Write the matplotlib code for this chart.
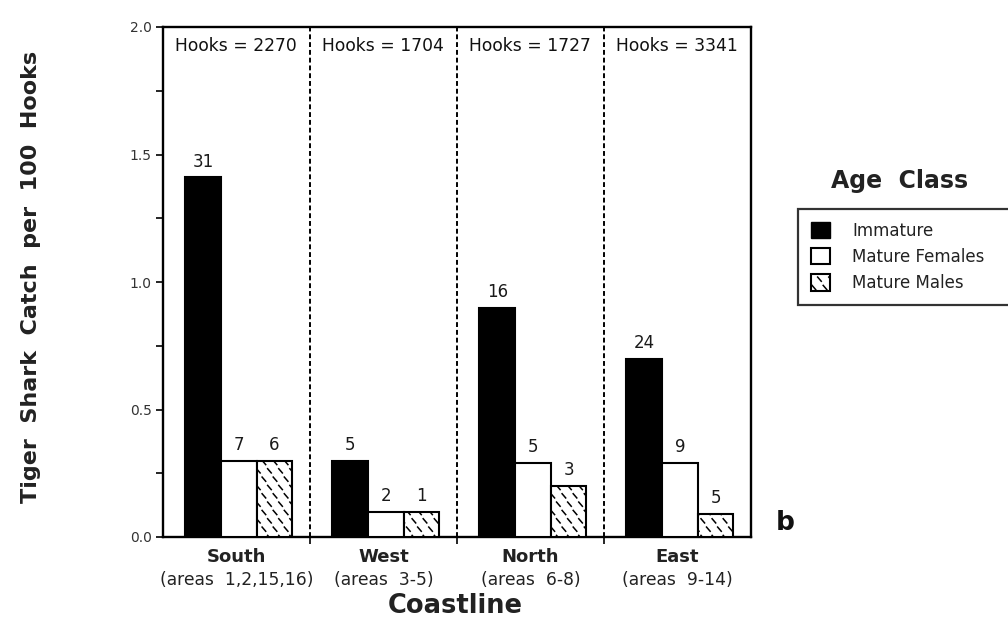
import matplotlib
matplotlib.use("Agg")
import matplotlib.pyplot as plt
import matplotlib.hatch as mhatch
from matplotlib.path import Path
import numpy as np
from matplotlib.patches import Patch

plt.rcParams['font.family'] = ['DejaVu Sans']
plt.rcParams['hatch.linewidth'] = 1.1


# custom hatch: short staggered "\" dashes (used via the '*' hatch character)
class DashHatch(mhatch.HatchPatternBase):
    def __init__(self, hatch, density):
        k = hatch.count('*')
        self.cols = 9 * k
        self.rows = 12 * k
        self.num_vertices = 2 * self.cols * self.rows if k else 0

    def set_vertices_and_codes(self, vertices, codes):
        hx = 0.018
        hy = 0.021
        pts = []
        for j in range(self.rows):
            for i in range(self.cols):
                cx = (i + 0.75 - 0.5 * (j % 2)) / self.cols
                cy = (j + 0.5) / self.rows
                pts.append((cx - hx, cy + hy))
                pts.append((cx + hx, cy - hy))
        vertices[:] = np.array(pts)
        codes[0::2] = Path.MOVETO
        codes[1::2] = Path.LINETO


mhatch._hatch_types = [t for t in mhatch._hatch_types if t.__name__ != 'Stars'] + [DashHatch]

coasts = ["South", "West", "North", "East"]
areas = ["(areas  1,2,15,16)", "(areas  3-5)", "(areas  6-8)", "(areas  9-14)"]
hooks = [2270, 1704, 1727, 3341]
series_names = ["Immature", "Mature Females", "Mature Males"]
immature = [1.41, 0.3, 0.9, 0.7]
mature_females = [0.3, 0.1, 0.29, 0.29]
mature_males = [0.3, 0.1, 0.2, 0.09]
n_immature = [31, 5, 16, 24]
n_females = [7, 2, 5, 9]
n_males = [6, 1, 3, 5]

fig = plt.figure(figsize=(10.08, 6.41), dpi=100)
ax = fig.add_axes([163/1008, 1-537/641, (751-163)/1008, (537-27)/641])

x = np.arange(len(coasts))
w = 0.243
offsets = [-0.226, 0.017, 0.259]
styles = [dict(color='black', edgecolor='black'),
          dict(color='white', edgecolor='black'),
          dict(color='white', edgecolor='black', hatch='*')]
vals = [immature, mature_females, mature_males]
counts = [n_immature, n_females, n_males]
for off, v, c, st in zip(offsets, vals, counts, styles):
    bars = ax.bar(x + off, v, w, linewidth=1.5, **st, zorder=3)
    for b, n in zip(bars, c):
        ax.annotate(str(n), (b.get_x() + b.get_width()/2, b.get_height()),
                    xytext=(0, 5), textcoords='offset points',
                    ha='center', va='bottom', fontsize=12, color='#1a1a1a')

for xb in [0.5, 1.5, 2.5]:
    ax.axvline(xb, color='black', lw=1.4, ls=(0, (2.5, 1.5)), zorder=2)

ax.set_xlim(-0.5, 3.5)
ax.set_ylim(0, 2.0)
ax.set_yticks([0, 0.5, 1.0, 1.5, 2.0])
ax.set_yticklabels(["0.0", "0.5", "1.0", "1.5", "2.0"])
ax.set_yticks(np.arange(0, 2.01, 0.25), minor=True)
ax.tick_params(axis='y', which='both', direction='out', length=5, width=1.2,
               labelsize=10, labelcolor='#333333', pad=3)
ax.set_xticks([0.5, 1.5, 2.5])
ax.set_xticklabels([])
ax.tick_params(axis='x', direction='out', length=5, width=1.2)
for s in ax.spines.values():
    s.set_linewidth(1.7)

trans = ax.get_xaxis_transform()
for i, (c, a, h) in enumerate(zip(coasts, areas, hooks)):
    ax.text(i, -20/510, c, transform=trans, ha='center', va='center',
            fontsize=13, fontweight='bold', color='#222222')
    ax.text(i, -43/510, a, transform=trans, ha='center', va='center',
            fontsize=12.3, color='#222222')
    ax.text(i - 0.415, 0.963, f"Hooks = {h}", transform=trans, ha='left', va='center',
            fontsize=12.3, color='#111111')

ax.set_ylabel("Tiger  Shark  Catch  per  100  Hooks", fontsize=16,
              fontweight='bold', color='#222222', va='center', ha='center')
ax.yaxis.set_label_coords((31-163)/588, (537-277)/510)

fig.text(455/1008, 1-606/641, "Coastline", ha='center', va='center',
         fontsize=18.5, fontweight='bold', color='#222222')
fig.text(785/1008, 1-523/641, "b", ha='center', va='center',
         fontsize=19, fontweight='bold', color='#111111')

fig.text(900/1008, 1-181/641, "Age  Class", ha='center', va='center',
         fontsize=17, fontweight='bold', color='#222222')
handles = [Patch(facecolor='black', edgecolor='black', label=series_names[0]),
           Patch(facecolor='white', edgecolor='black', linewidth=1.5, label=series_names[1]),
           Patch(facecolor='white', edgecolor='black', linewidth=1.5, hatch='*', label=series_names[2])]
leg = fig.legend(handles=handles, loc='upper left', mode='expand',
                 bbox_to_anchor=(798/1008, 1-209/641, (1020-798)/1008, 0.0), fontsize=12,
                 frameon=True, fancybox=False, edgecolor='black',
                 handlelength=1.15, handleheight=1.15, handletextpad=1.35,
                 labelspacing=0.5, borderpad=0.75, borderaxespad=0)
leg.get_frame().set_linewidth(1.6)
for t in leg.get_texts():
    t.set_color('#222222')

fig.savefig("out.png", dpi=100)
